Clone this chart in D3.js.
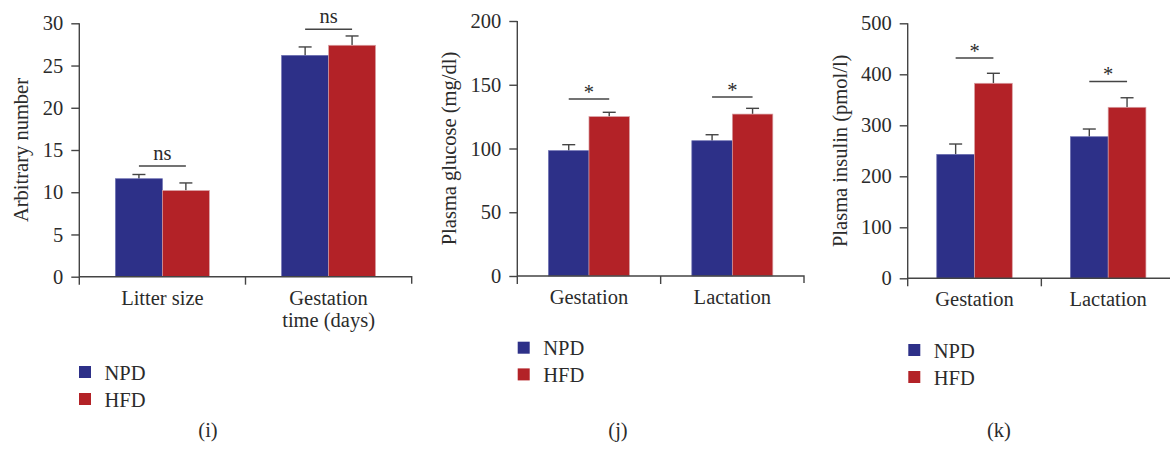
<!DOCTYPE html>
<html>
<head>
<meta charset="utf-8">
<script src="https://cdn.jsdelivr.net/npm/d3@7"></script>
<style>
  body { margin: 0; background: #fff; }
  svg { display: block; font-family: "Liberation Serif", "DejaVu Serif", serif; }
</style>
</head>
<body>
<div id="chart"></div>
<script>
const width = 1170;
const height = 449;

const groups = ["NPD", "HFD"];
const group_colors = ["#2d3088", "#b32227"];

// (i)
const i_categories = ["Litter size", "Gestation\ntime (days)"];
const i_npd = [11.6, 26.2];
const i_npd_err = [0.5, 1.0];
const i_hfd = [10.2, 27.4];
const i_hfd_err = [0.9, 1.1];
const i_sig = ["ns", "ns"];
const i_sig_at = [13.1, 29.3];
const i_ticks = [0, 5, 10, 15, 20, 25, 30];

// (j)
const j_categories = ["Gestation", "Lactation"];
const j_npd = [98.3, 106.1];
const j_npd_err = [4.7, 4.7];
const j_hfd = [125, 127];
const j_hfd_err = [3.4, 4.5];
const j_sig = ["*", "*"];
const j_sig_at = [138.8, 140.4];
const j_ticks = [0, 50, 100, 150, 200];

// (k)
const k_categories = ["Gestation", "Lactation"];
const k_npd = [243, 277.6];
const k_npd_err = [20.3, 15.1];
const k_hfd = [382.4, 335.3];
const k_hfd_err = [19.6, 18.7];
const k_sig = ["*", "*"];
const k_sig_at = [432, 386];
const k_ticks = [0, 100, 200, 300, 400, 500];

const text_color = "#2b2b2b";
const axis_color = "#444";
const font_size = "20.5px";

const svg = d3.select("#chart").append("svg")
    .attr("width", width)
    .attr("height", height)
    .attr("viewBox", [0, 0, width, height])
    .style("font-size", font_size);

const panels = [
    {
        categories: i_categories, npd: i_npd, npd_err: i_npd_err, hfd: i_hfd, hfd_err: i_hfd_err,
        sig: i_sig, sig_at: i_sig_at, ticks: i_ticks, ylabel: "Arbitrary number", tag: "(i)",
        x0: 79.3, x1: 411.7, y0: 276.7, y1: 23.3, ylabel_x: 28,
        legend: [79, 366, 27], tag_x: 208
    },
    {
        categories: j_categories, npd: j_npd, npd_err: j_npd_err, hfd: j_hfd, hfd_err: j_hfd_err,
        sig: j_sig, sig_at: j_sig_at, ticks: j_ticks, ylabel: "Plasma glucose (mg/dl)", tag: "(j)",
        x0: 517.3, x1: 804, y0: 276, y1: 21, ylabel_x: 455.7,
        legend: [517.7, 341.7, 26.7], tag_x: 618
    },
    {
        categories: k_categories, npd: k_npd, npd_err: k_npd_err, hfd: k_hfd, hfd_err: k_hfd_err,
        sig: k_sig, sig_at: k_sig_at, ticks: k_ticks, ylabel: "Plasma insulin (pmol/l)", tag: "(k)",
        x0: 907.7, x1: 1175, y0: 278.3, y1: 23.3, ylabel_x: 846.7,
        legend: [908.3, 344, 27], tag_x: 999
    }
];

panels.forEach(drawPanel);

function drawPanel(p) {
    const g = svg.append("g");

    const y = d3.scaleLinear()
        .domain([0, d3.max(p.ticks)])
        .range([p.y0, p.y1]);

    const x = d3.scaleBand()
        .domain(p.categories)
        .range([p.x0, p.x1])
        .padding(0);

    const xg = d3.scaleBand()
        .domain(groups)
        .range([0, x.bandwidth()])
        .paddingInner(0)
        .paddingOuter(0.77);

    const rows = p.categories.map((c, i) => ({
        cat: c,
        vals: [
            {group: "NPD", value: p.npd[i], err: p.npd_err[i]},
            {group: "HFD", value: p.hfd[i], err: p.hfd_err[i]}
        ],
        sig: p.sig[i],
        sig_at: p.sig_at[i]
    }));

    // error bars (drawn first so the bar covers the lower half)
    rows.forEach(r => {
        r.vals.forEach(v => {
            const cx = x(r.cat) + xg(v.group) + xg.bandwidth() / 2;
            g.append("line")
                .attr("x1", cx).attr("x2", cx)
                .attr("y1", y(v.value)).attr("y2", y(v.value + v.err))
                .attr("stroke", axis_color).attr("stroke-width", 1.4);
            g.append("line")
                .attr("x1", cx - 6.5).attr("x2", cx + 6.5)
                .attr("y1", y(v.value + v.err)).attr("y2", y(v.value + v.err))
                .attr("stroke", axis_color).attr("stroke-width", 1.4);
        });
    });

    // bars
    rows.forEach(r => {
        g.selectAll(null)
            .data(r.vals)
            .join("rect")
            .attr("x", d => x(r.cat) + xg(d.group))
            .attr("y", d => y(d.value))
            .attr("width", xg.bandwidth())
            .attr("height", d => y(0) - y(d.value))
            .attr("fill", d => group_colors[groups.indexOf(d.group)])
            .attr("stroke", d => d.group === "NPD" ? "#6a6db0" : "#d9a0a4")
            .attr("stroke-width", 0.7);
    });

    // significance lines
    rows.forEach(r => {
        const a = x(r.cat) + xg("NPD") + xg.bandwidth() / 2;
        const b = x(r.cat) + xg("HFD") + xg.bandwidth() / 2;
        g.append("line")
            .attr("x1", a).attr("x2", b)
            .attr("y1", y(r.sig_at)).attr("y2", y(r.sig_at))
            .attr("stroke", axis_color).attr("stroke-width", 1.4);
        g.append("text")
            .attr("x", (a + b) / 2)
            .attr("y", y(r.sig_at) - (r.sig === "*" ? 0 : 6))
            .attr("text-anchor", "middle")
            .attr("fill", text_color)
            .text(r.sig);
    });

    // y axis
    const yAxis = g.append("g")
        .attr("transform", `translate(${p.x0},0)`)
        .call(d3.axisLeft(y).tickValues(p.ticks).tickSize(8).tickPadding(8).tickSizeOuter(0));
    yAxis.select(".domain").remove();
    yAxis.selectAll("line").attr("stroke", axis_color).attr("stroke-width", 1.4);
    yAxis.selectAll("text")
        .attr("fill", text_color)
        .style("font-size", font_size)
        .style("font-family", "Liberation Serif, serif");

    g.append("line")
        .attr("x1", p.x0).attr("x2", p.x0)
        .attr("y1", y(d3.max(p.ticks))).attr("y2", p.y0 + 8)
        .attr("stroke", axis_color).attr("stroke-width", 1.4);

    // x axis
    g.append("path")
        .attr("d", `M${p.x0},${p.y0}H${p.x1}V${p.y0 + 7}`)
        .attr("fill", "none")
        .attr("stroke", axis_color).attr("stroke-width", 1.4);
    const mid = x(p.categories[1]);
    g.append("line")
        .attr("x1", mid).attr("x2", mid)
        .attr("y1", p.y0).attr("y2", p.y0 + 8)
        .attr("stroke", axis_color).attr("stroke-width", 1.4);

    g.selectAll(".xlab")
        .data(p.categories)
        .join("text")
        .attr("class", "xlab")
        .attr("text-anchor", "middle")
        .attr("fill", text_color)
        .selectAll("tspan")
        .data(d => d.split("\n").map(t => ({t, cx: x(d) + x.bandwidth() / 2})))
        .join("tspan")
        .attr("x", d => d.cx)
        .attr("y", (d, i) => p.y0 + 28 + i * 22)
        .text(d => d.t);

    // y label
    g.append("text")
        .attr("transform", `translate(${p.ylabel_x},${(p.y0 + p.y1) / 2}) rotate(-90)`)
        .attr("text-anchor", "middle")
        .attr("fill", text_color)
        .text(p.ylabel);

    // legend
    const [lx, ly, step] = p.legend;
    const leg = g.selectAll(".leg")
        .data(groups)
        .join("g")
        .attr("class", "leg")
        .attr("transform", (d, i) => `translate(${lx},${ly + i * step})`);
    leg.append("rect")
        .attr("width", 12).attr("height", 12)
        .attr("fill", (d, i) => group_colors[i]);
    leg.append("text")
        .attr("x", 25.5).attr("y", 13.5)
        .attr("fill", text_color)
        .text(d => d);

    // panel tag
    g.append("text")
        .attr("x", p.tag_x).attr("y", 437)
        .attr("text-anchor", "middle")
        .attr("fill", text_color)
        .text(p.tag);
}
</script>
</body>
</html>
